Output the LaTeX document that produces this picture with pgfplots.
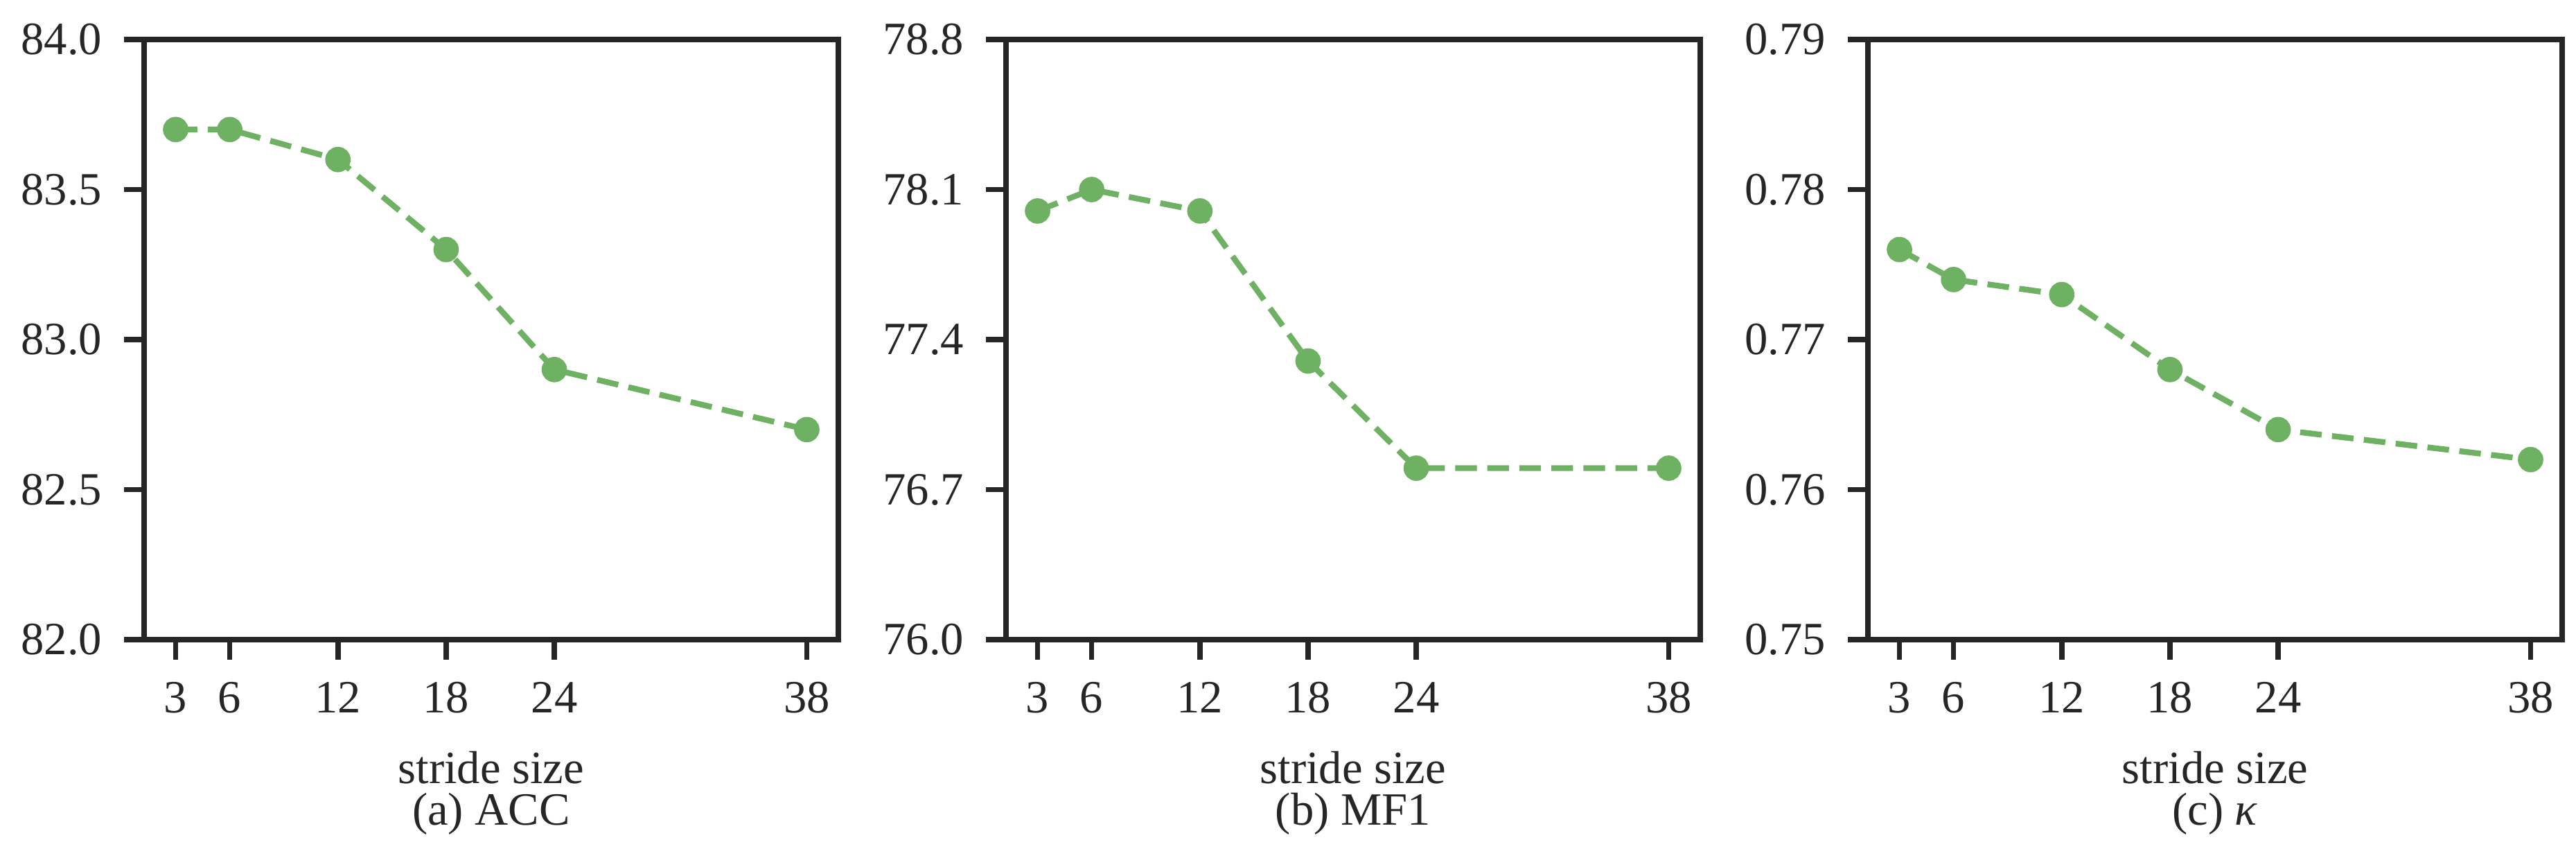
\documentclass[border=0pt]{standalone}
\usepackage{fontspec}
\setmainfont{Liberation Serif}
\usepackage{pgfplots}
\pgfplotsset{compat=1.18}
\definecolor{linegreen}{RGB}{110,177,98}
\definecolor{axisgray}{RGB}{38,38,38}

\newcommand{\panelfont}{\fontsize{16}{19}\selectfont}

\tikzset{panelcaption/.style={anchor=base, font=\panelfont, text=axisgray, yshift=-64.1pt}}

\pgfplotsset{
  stridepanel/.style={
    scale only axis, width=240.48pt, height=207.84pt,
    xmin=1.25, xmax=39.75,
    xtick={3,6,12,18,24,38},
    clip=false,
    tick align=outside, major tick length=7pt,
    xtick pos=bottom, ytick pos=left,
    tick style={line width=1.8pt, color=axisgray},
    axis line style={line width=1.8pt, color=axisgray},
    tick label style={font=\panelfont, text=axisgray},
    label style={font=\panelfont, text=axisgray},
    /pgf/number format/assume math mode=true,
    xticklabel style={anchor=base, yshift=-18.2pt},
    yticklabel style={anchor=east, inner xsep=0pt, xshift=-7.4pt},
    xlabel={stride size},
    xlabel style={at={(axis description cs:0.5,0)}, anchor=base, yshift=-49.7pt},
  },
  stride/.style={
    color=linegreen, line width=2pt, dash pattern=on 7.5pt off 3.6pt,
    mark=*, mark size=3.4pt, mark options={solid, fill=linegreen, draw=linegreen},
  },
}

\begin{document}
\begin{tikzpicture}
\path[use as bounding box] (-49.92pt,-76.08pt) rectangle (842.4pt,221.52pt);

% (a) ACC
\begin{axis}[stridepanel, at={(0pt,0pt)},
  ymin=82, ymax=84, ytick={82,82.5,83,83.5,84},
  yticklabel style={/pgf/number format/.cd, fixed, fixed zerofill, precision=1},
]
  \addplot[stride] coordinates {(3,83.7)(6,83.7)(12,83.6)(18,83.3)(24,82.9)(38,82.7)};
  \node[panelcaption] at (axis description cs:0.5,0) {(a) ACC};
\end{axis}

% (b) MF1
\begin{axis}[stridepanel, at={(298.56pt,0pt)},
  ymin=76, ymax=78.8, ytick={76,76.7,77.4,78.1,78.8},
  yticklabel style={/pgf/number format/.cd, fixed, fixed zerofill, precision=1},
]
  \addplot[stride] coordinates {(3,78.0)(6,78.1)(12,78.0)(18,77.3)(24,76.8)(38,76.8)};
  \node[panelcaption] at (axis description cs:0.5,0) {(b) MF1};
\end{axis}

% (c) kappa
\begin{axis}[stridepanel, at={(597.12pt,0pt)},
  ymin=0.75, ymax=0.79, ytick={0.75,0.76,0.77,0.78,0.79},
  yticklabel style={/pgf/number format/.cd, fixed, fixed zerofill, precision=2},
]
  \addplot[stride] coordinates {(3,0.776)(6,0.774)(12,0.773)(18,0.768)(24,0.764)(38,0.762)};
  \node[panelcaption] at (axis description cs:0.5,0) {(c) \textit{κ}};
\end{axis}
\end{tikzpicture}
\end{document}
